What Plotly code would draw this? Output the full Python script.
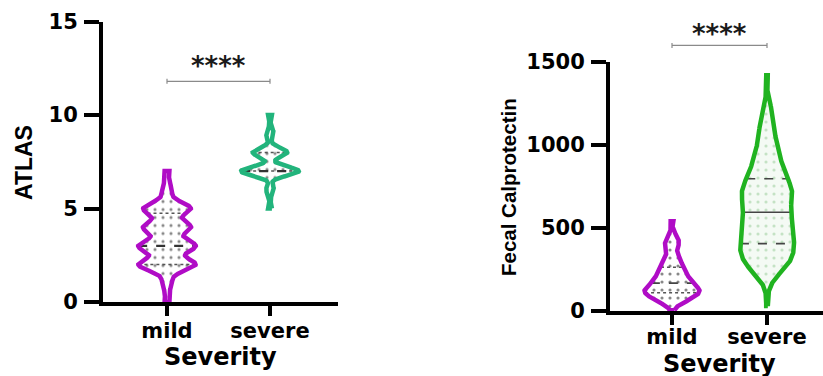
import numpy as np
import plotly.graph_objects as go

# ---------------- data ----------------
categories = ["mild", "severe"]

atlas_levels = [0, 1, 2, 3, 4, 5, 6, 7, 8, 9, 10]
atlas_mild_counts = [1, 2, 12, 12, 10, 10, 2, 1, 0, 0, 0]
atlas_severe_counts = [0, 0, 0, 0, 0, 1, 2, 15, 9, 2, 1]

fc_mild_values = [5, 25, 50, 75, 100, 125, 150, 175, 200, 225, 250, 275,
                  300, 325, 350, 375, 400, 425, 450, 475, 540]
fc_mild_counts = [1, 1, 5, 8, 11, 12, 10, 8, 7, 6, 5, 4,
                  4, 3, 2, 2, 3, 3, 2, 1, 1]

fc_severe_values = [30, 125, 175, 225, 275, 325, 375, 425, 475, 525, 575,
                    625, 675, 725, 775, 825, 875, 925, 975, 1025, 1075,
                    1125, 1175, 1225, 1275, 1420]
fc_severe_counts = [1, 1, 3, 8, 14, 17, 18, 18, 17, 17, 16,
                    15, 17, 17, 15, 12, 10, 9, 7, 6, 5,
                    5, 4, 3, 1, 1]

atlas_ticks = [0, 5, 10, 15]
fc_ticks = [0, 500, 1000, 1500]
significance = "****"

# ---------------- styling ----------------
W, H = 823, 376
PURPLE = "#B00CC6"
GREEN_L = "#22B47C"
GREEN_R = "#20B320"
TICKFONT = dict(family="DejaVu Sans", size=21, color="black", weight="bold")
XTICKFONT = dict(family="DejaVu Sans", size=21, color="black", weight="bold")


def px_x(px):
    return px / W


def px_y(px):
    return 1 - px / H


def kde(values, counts, bw, n=500):
    v = np.asarray(values, float)
    c = np.asarray(counts, float)
    m = c > 0
    v, c = v[m], c[m]
    grid = np.linspace(v.min(), v.max(), n)
    d = (c[None, :] * np.exp(-0.5 * ((grid[:, None] - v[None, :]) / bw) ** 2)).sum(1)
    return grid, d / d.max(), v, c


def quartiles(grid, dens, v, c, discrete):
    if discrete:
        return np.percentile(np.repeat(v, c.astype(int)), [25, 50, 75])
    cdf = np.cumsum(dens)
    cdf = cdf / cdf[-1]
    return np.interp([0.25, 0.5, 0.75], cdf, grid)


fig = go.Figure()


def add_violin(xa, ya, pos, values, counts, bw, halfw, color, lw,
               fillbg, dotcolor, qstyle, discrete):
    grid, dens, v, c = kde(values, counts, bw)
    hw = halfw * dens
    xs = np.concatenate([pos + hw, (pos - hw)[::-1], [pos + hw[0]]])
    ys = np.concatenate([grid, grid[::-1], [grid[0]]])
    fig.add_trace(go.Scatter(
        x=xs, y=ys, xaxis=xa, yaxis=ya, mode="lines", fill="toself",
        line=dict(width=0, color=color), fillcolor=fillbg,
        fillpattern=dict(shape=".", size=8, solidity=0.12, fgcolor=dotcolor,
                         bgcolor=fillbg, fillmode="replace"),
        hoverinfo="skip", showlegend=False))
    qs = quartiles(grid, dens, v, c, discrete)
    for i, q in enumerate(qs):
        w = np.interp(q, grid, hw)
        st = qstyle[i]
        fig.add_trace(go.Scatter(
            x=[pos - w, pos + w], y=[q, q], xaxis=xa, yaxis=ya, mode="lines",
            line=dict(color=st[0], width=st[1], dash=st[2]),
            hoverinfo="skip", showlegend=False))
    fig.add_trace(go.Scatter(
        x=xs, y=ys, xaxis=xa, yaxis=ya, mode="lines",
        line=dict(width=lw, color=color), hoverinfo="skip", showlegend=False))


left_q = [("#555", 1.5, "dot"), ("#333", 2.2, "dash"), ("#555", 1.5, "dot")]
right_mild_q = [("#555", 1.5, "dot"), ("#444", 1.6, "dash"), ("#555", 1.5, "dot")]
right_sev_q = [("#444", 1.6, "dash"), ("#444", 1.6, "solid"), ("#444", 1.6, "dash")]

add_violin("x", "y", 1, atlas_levels, atlas_mild_counts, 0.33, 0.28,
           PURPLE, 4.5, "white", "#888", left_q, True)
add_violin("x", "y", 2, atlas_levels, atlas_severe_counts, 0.24, 0.28,
           GREEN_L, 4.5, "white", "#888", left_q, True)
add_violin("x2", "y2", 1, fc_mild_values, fc_mild_counts, 18, 0.29,
           PURPLE, 4.5, "white", "#888", right_mild_q, False)
add_violin("x2", "y2", 2, fc_severe_values, fc_severe_counts, 40, 0.285,
           GREEN_R, 4.5, "#F4FAF4", "#C4E2C4", right_sev_q, False)

# axis geometry
L_XDOM = [px_x(103), px_x(338)]
L_XR = [1 - 64 / 103, 2 + 68 / 103]
L_YDOM = [px_y(302), px_y(21.5)]
L_YR = [0, 15]
R_XDOM = [px_x(610), 1.0]
R_XR = [1 - 62 / 95, 2 + 56 / 95]
R_YDOM = [px_y(311), px_y(62)]
R_YR = [0, 1500]

common_x = dict(tickmode="array", tickvals=[1, 2], ticktext=categories,
                showline=True, linecolor="black", linewidth=4,
                ticks="outside", ticklen=10, tickwidth=3.5, tickcolor="black",
                showgrid=False, zeroline=False, tickfont=XTICKFONT,
                fixedrange=True, automargin=False)
common_y = dict(showline=True, linecolor="black", linewidth=4,
                ticks="outside", ticklen=15, tickwidth=3.5, tickcolor="black",
                showgrid=False, zeroline=False, tickfont=TICKFONT,
                ticklabelstandoff=2, fixedrange=True, automargin=False)

fig.update_layout(
    template="none",
    width=W, height=H, margin=dict(l=0, r=0, t=0, b=0, pad=0), autosize=False,
    paper_bgcolor="white", plot_bgcolor="white", showlegend=False,
    xaxis=dict(domain=L_XDOM, range=L_XR, anchor="y", ticklabelstandoff=-3, **common_x),
    yaxis=dict(domain=L_YDOM, range=L_YR, anchor="x", tickvals=atlas_ticks, **common_y),
    xaxis2=dict(domain=R_XDOM, range=R_XR, anchor="y2", ticklabelstandoff=-6, **common_x),
    yaxis2=dict(domain=R_YDOM, range=R_YR, anchor="x2", tickvals=fc_ticks, **common_y),
)


def yval_to_paper(val, dom, rng):
    return dom[0] + (val - rng[0]) / (rng[1] - rng[0]) * (dom[1] - dom[0])


# significance brackets
shapes = []
annots = []
for xref, yb, dom, rng, star_px in [("x", 11.8, L_YDOM, L_YR, 64),
                                     ("x2", 1600, R_YDOM, R_YR, 32)]:
    yp = yval_to_paper(yb, dom, rng)
    cap = 2.5 / H
    shapes.append(dict(type="line", xref=xref, yref="paper", x0=1, x1=2, y0=yp, y1=yp,
                       line=dict(color="#8a8a8a", width=1.2)))
    for xe in (1, 2):
        shapes.append(dict(type="line", xref=xref, yref="paper", x0=xe, x1=xe,
                           y0=yp - cap, y1=yp + cap, line=dict(color="#8a8a8a", width=1.2)))
    annots.append(dict(text=significance, xref=xref, yref="paper", x=1.5, y=px_y(star_px + 2),
                       showarrow=False, xanchor="center", yanchor="middle",
                       font=dict(family="DejaVu Sans", size=26, color="#1a1a1a", weight="bold")))

# axis titles
annots += [
    dict(text="ATLAS", xref="paper", yref="paper", x=px_x(24), y=px_y(163), textangle=-90,
         showarrow=False, xanchor="center", yanchor="middle",
         font=dict(family="Liberation Sans", size=23, color="black", weight="bold")),
    dict(text="Fecal Calprotectin", xref="paper", yref="paper", x=px_x(508), y=px_y(187),
         textangle=-90, showarrow=False, xanchor="center", yanchor="middle",
         font=dict(family="Liberation Sans", size=20.5, color="black", weight="bold")),
    dict(text="Severity", xref="paper", yref="paper", x=px_x(221), y=px_y(357),
         showarrow=False, xanchor="center", yanchor="middle",
         font=dict(family="DejaVu Sans", size=24, color="black", weight="bold")),
    dict(text="Severity", xref="paper", yref="paper", x=px_x(719), y=px_y(364),
         showarrow=False, xanchor="center", yanchor="middle",
         font=dict(family="DejaVu Sans", size=24, color="black", weight="bold")),
]

fig.update_layout(shapes=shapes, annotations=annots)
fig.write_html("out.html")
